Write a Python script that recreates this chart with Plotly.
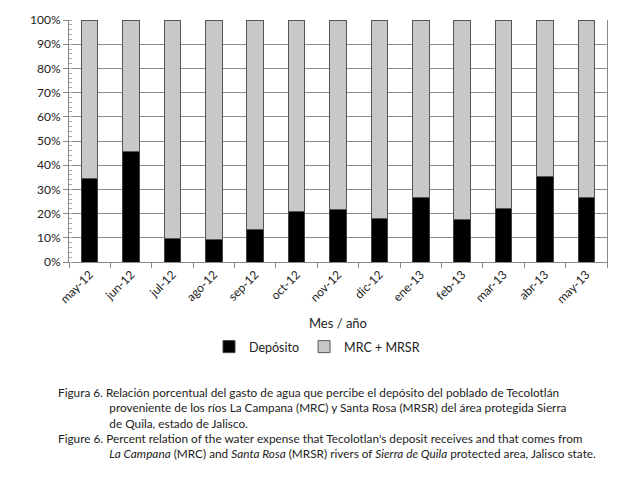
import plotly.graph_objects as go

months = ["may-12", "jun-12", "jul-12", "ago-12", "sep-12", "oct-12", "nov-12",
          "dic-12", "ene-13", "feb-13", "mar-13", "abr-13", "may-13"]
deposito = [34.4, 45.6, 9.8, 9.5, 13.5, 20.9, 21.8, 17.9, 26.7, 17.4, 22.0, 35.2, 26.6]
mrc_mrsr = [round(100 - v, 1) for v in deposito]
y_ticks = [0, 10, 20, 30, 40, 50, 60, 70, 80, 90, 100]
y_labels = [f"{t}%" for t in y_ticks]

indent = "\u00a0" * 17
caption_lines = [
    "Figura 6. Relación porcentual del gasto de agua que percibe el depósito del poblado de Tecolotlán",
    indent + "proveniente de los ríos La Campana (MRC) y Santa Rosa (MRSR) del área protegida Sierra",
    indent + "de Quila, estado de Jalisco.",
    "Figure 6. Percent relation of the water expense that Tecolotlan's deposit receives and that comes from",
    indent + "<i>La Campana</i> (MRC) and <i>Santa Rosa</i> (MRSR) rivers of <i>Sierra de Quila</i> protected area, Jalisco state.",
]

W, H = 617, 480
L, R, T, B = 69, 10, 20, 218
pw = W - L - R
ph = H - T - B


def px_to_paper_x(px):
    return (px - L) / pw


def py_to_paper_y(py):
    return (H - B - py) / ph


fig = go.Figure()
fig.add_trace(go.Bar(x=months, y=deposito, name="Depósito",
                     marker=dict(color="#000000", line=dict(color="#404040", width=1))))
fig.add_trace(go.Bar(x=months, y=mrc_mrsr, name="MRC + MRSR",
                     marker=dict(color="#c8c8c8", line=dict(color="#555555", width=1))))

cap_font = dict(family="Lato", size=11.8, color="#222222")
annotations = [
    dict(text="Mes / año", x=0.5, y=py_to_paper_y(323), xref="paper", yref="paper",
         showarrow=False, xanchor="center", yanchor="middle",
         font=dict(family="Lato", size=13, color="#222222")),
    dict(text="<br>".join(caption_lines), x=px_to_paper_x(56), y=py_to_paper_y(383),
         xref="paper", yref="paper", showarrow=False, xanchor="left", yanchor="top",
         align="left", font=cap_font),
]

fig.update_layout(
    width=W, height=H,
    margin=dict(l=L, r=R, t=T, b=B, autoexpand=False),
    barmode="stack", bargap=0.6,
    plot_bgcolor="white", paper_bgcolor="white",
    font=dict(family="Lato", size=12, color="#222222"),
    showlegend=True,
    legend=dict(orientation="h", x=px_to_paper_x(317), xanchor="center",
                y=py_to_paper_y(347), yanchor="middle",
                font=dict(family="Lato", size=12.5, color="#222222"),
                itemwidth=30, traceorder="normal"),
    annotations=annotations,
)
fig.update_xaxes(
    tickangle=-45, tickson="boundaries", ticks="outside", ticklen=5,
    tickcolor="#888888", showline=True, linecolor="#888888", linewidth=1,
    showgrid=False, tickfont=dict(family="Lato", size=12, color="#222222"),
)
fig.update_yaxes(
    range=[0, 100], tickvals=y_ticks, ticktext=y_labels,
    ticks="outside", ticklen=5, tickcolor="#888888",
    showline=True, linecolor="#888888", linewidth=1, mirror=True,
    showgrid=True, gridcolor="#8c8c8c", gridwidth=1,
    minor=dict(dtick=2, ticks="inside", ticklen=3, tickcolor="#aaaaaa", showgrid=False),
    tickfont=dict(family="Lato", size=12, color="#222222"),
)

fig.write_html("out.html", config={"displayModeBar": False},
               post_script="document.body.style.margin='0';")
